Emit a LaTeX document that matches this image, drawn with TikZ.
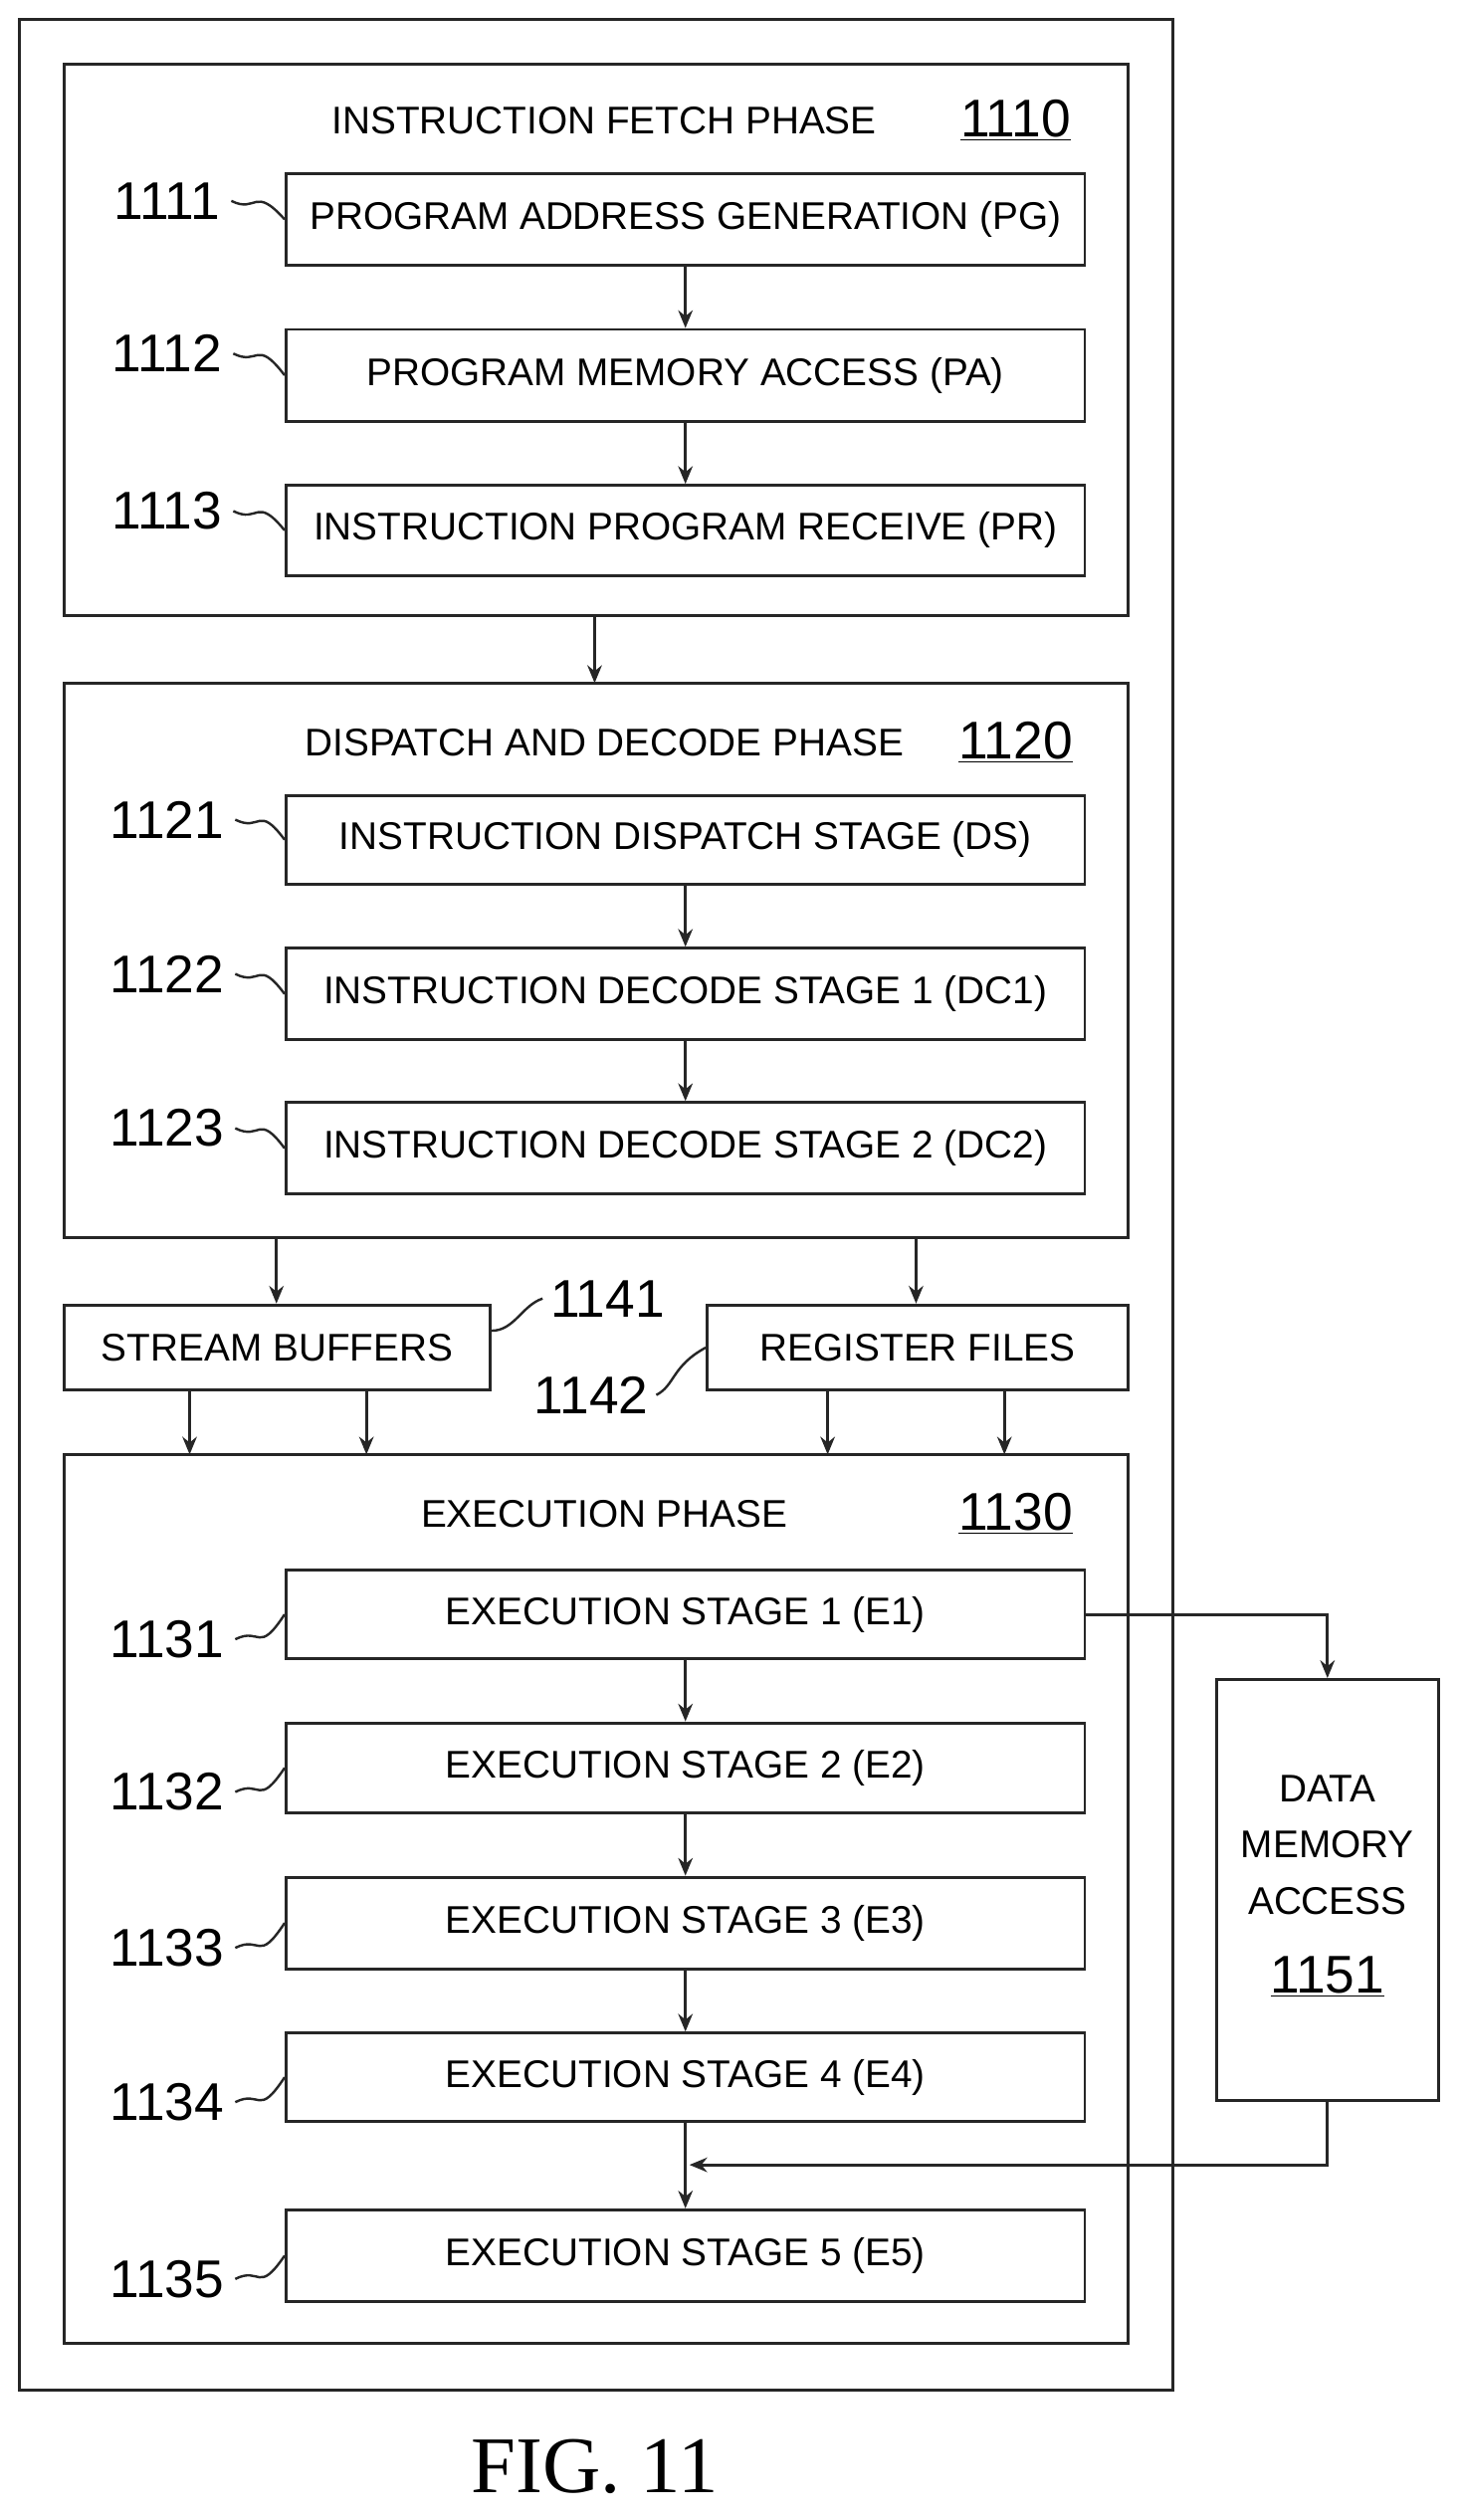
\documentclass[tikz,border=0pt]{standalone}
\usepackage{fontspec}
\setmainfont{Liberation Sans}
\newfontfamily\figfont{Liberation Serif}
\usetikzlibrary{arrows.meta}
\begin{document}
\begin{tikzpicture}[x=1pt,y=-1pt,line width=1.8pt,draw=black!85,
  box/.style={draw,inner sep=0pt},
  txt/.style={font=\fontsize{24}{26}\selectfont,inner sep=0pt},
  num/.style={font=\fontsize{33}{35}\selectfont,inner sep=0pt},
  arr/.style={-{Stealth[length=11pt,width=9pt]}},
  sq/.style={line width=1.5pt}]
\useasboundingbox (0,0) rectangle (908,1568);
\draw (12,12) rectangle (730,1487);
% fetch
\draw (40,40) rectangle (702,383);
\node[txt] (t1110) at (376,75) {INSTRUCTION FETCH PHASE};
\node[num] (n1110) at (632,75) {\underline{1110}};
\foreach \nm/\ya/\yb/\t/\lab in {pg/108/165/PROGRAM ADDRESS GENERATION (PG)/1111,
  pa/205/262/PROGRAM MEMORY ACCESS (PA)/1112,
  pr/302/358/INSTRUCTION PROGRAM RECEIVE (PR)/1113,
  ds/495/550/INSTRUCTION DISPATCH STAGE (DS)/1121,
  dca/590/647/INSTRUCTION DECODE STAGE 1 (DC1)/1122,
  dcb/686/743/INSTRUCTION DECODE STAGE 2 (DC2)/1123,
  ea/977/1032/EXECUTION STAGE 1 (E1)/1131,
  eb/1072/1128/EXECUTION STAGE 2 (E2)/1132,
  ec/1168/1225/EXECUTION STAGE 3 (E3)/1133,
  ed/1265/1320/EXECUTION STAGE 4 (E4)/1134,
  ee/1375/1432/EXECUTION STAGE 5 (E5)/1135}{
  \node[box,minimum width=497pt,minimum height={\yb-\ya}] (\nm) at (426.5,{(\ya+\yb)/2}) {};
  \node[txt] at (\nm.center) {\t};
}
\node[num] (l1111) at (104,125) {1111};
\node[num] (l1112) at (104,220) {1112};
\node[num] (l1113) at (104,318) {1113};
\node[num] (l1121) at (104,510) {1121};
\node[num] (l1122) at (104,606) {1122};
\node[num] (l1123) at (104,702) {1123};
\node[num] (l1131) at (104,1020) {1131};
\node[num] (l1132) at (104,1115) {1132};
\node[num] (l1133) at (104,1212) {1133};
\node[num] (l1134) at (104,1308) {1134};
\node[num] (l1135) at (104,1418) {1135};
\foreach \l/\b in {l1111/pg,l1112/pa,l1113/pr,l1121/ds,l1122/dca,l1123/dcb}{
  \draw[sq] ([xshift=6pt]\l.east) .. controls ([xshift=22pt,yshift=-8pt]\l.east) and ([xshift=20pt,yshift=10pt]\l.east) .. (\b.west);}
\foreach \l/\b in {l1131/ea,l1132/eb,l1133/ec,l1134/ed,l1135/ee}{
  \draw[sq] ([xshift=6pt]\l.east) .. controls ([xshift=22pt,yshift=8pt]\l.east) and ([xshift=20pt,yshift=-10pt]\l.east) .. (\b.west);}
\draw[arr] (pg.south) -- (pa.north);
\draw[arr] (pa.south) -- (pr.north);
% dispatch
\draw (40,425) rectangle (702,770);
\coordinate (fb) at (370,383); \coordinate (dt) at (370,425);
\draw[arr] (fb) -- (dt);
\node[txt] (t1120) at (376,462) {DISPATCH AND DECODE PHASE};
\node[num] (n1120) at (632,462) {\underline{1120}};
\draw[arr] (ds.south) -- (dca.north);
\draw[arr] (dca.south) -- (dcb.north);
% buffers
\node[box,minimum width=265pt,minimum height=53pt] (sb) at (172.5,838.5) {};
\node[txt] at (sb.center) {STREAM BUFFERS};
\node[box,minimum width=262pt,minimum height=53pt] (rf) at (571,838.5) {};
\node[txt] at (rf.center) {REGISTER FILES};
\draw[arr] (172,770) -- (sb.north -| 172,0);
\draw[arr] (570,770) -- (rf.north -| 570,0);
\node[num] (l1141) at (378,808) {1141};
\node[num] (l1142) at (368,868) {1142};
\draw[sq] (sb.east |- 0,828) .. controls (320,828) and (325,812) .. ([xshift=-4pt]l1141.west);
\draw[sq] ([xshift=4pt]l1142.east) .. controls (420,862) and (418,850) .. (rf.west);
% execution
\draw (40,905) rectangle (702,1458);
\foreach \x in {118,228}{\draw[arr] (\x,865) -- (\x,905);}
\foreach \x in {515,625}{\draw[arr] (\x,865) -- (\x,905);}
\node[txt] (t1130) at (376,942) {EXECUTION PHASE};
\node[num] (n1130) at (632,942) {\underline{1130}};
\draw[arr] (ea.south) -- (eb.north);
\draw[arr] (eb.south) -- (ec.north);
\draw[arr] (ec.south) -- (ed.north);
\draw[arr] (ed.south) -- (ee.north);
% data memory
\node[box,minimum width=138pt,minimum height=262pt] (dm) at (826,1176) {};
\node[txt,align=center,font=\fontsize{24}{35}\selectfont] at (826,1148) {DATA\\MEMORY\\ACCESS};
\node[num] at (826,1230) {\underline{1151}};
\draw[arr] (ea.east) -- (ea.east -| dm.north) -- (dm.north);
\coordinate (j) at (429,1347);
\draw[arr] (dm.south) |- (j);
\node[font=\figfont\fontsize{50}{52}\selectfont,inner sep=0pt] (fig) at (370,1535) {FIG. 11};
\end{tikzpicture}
\end{document}
